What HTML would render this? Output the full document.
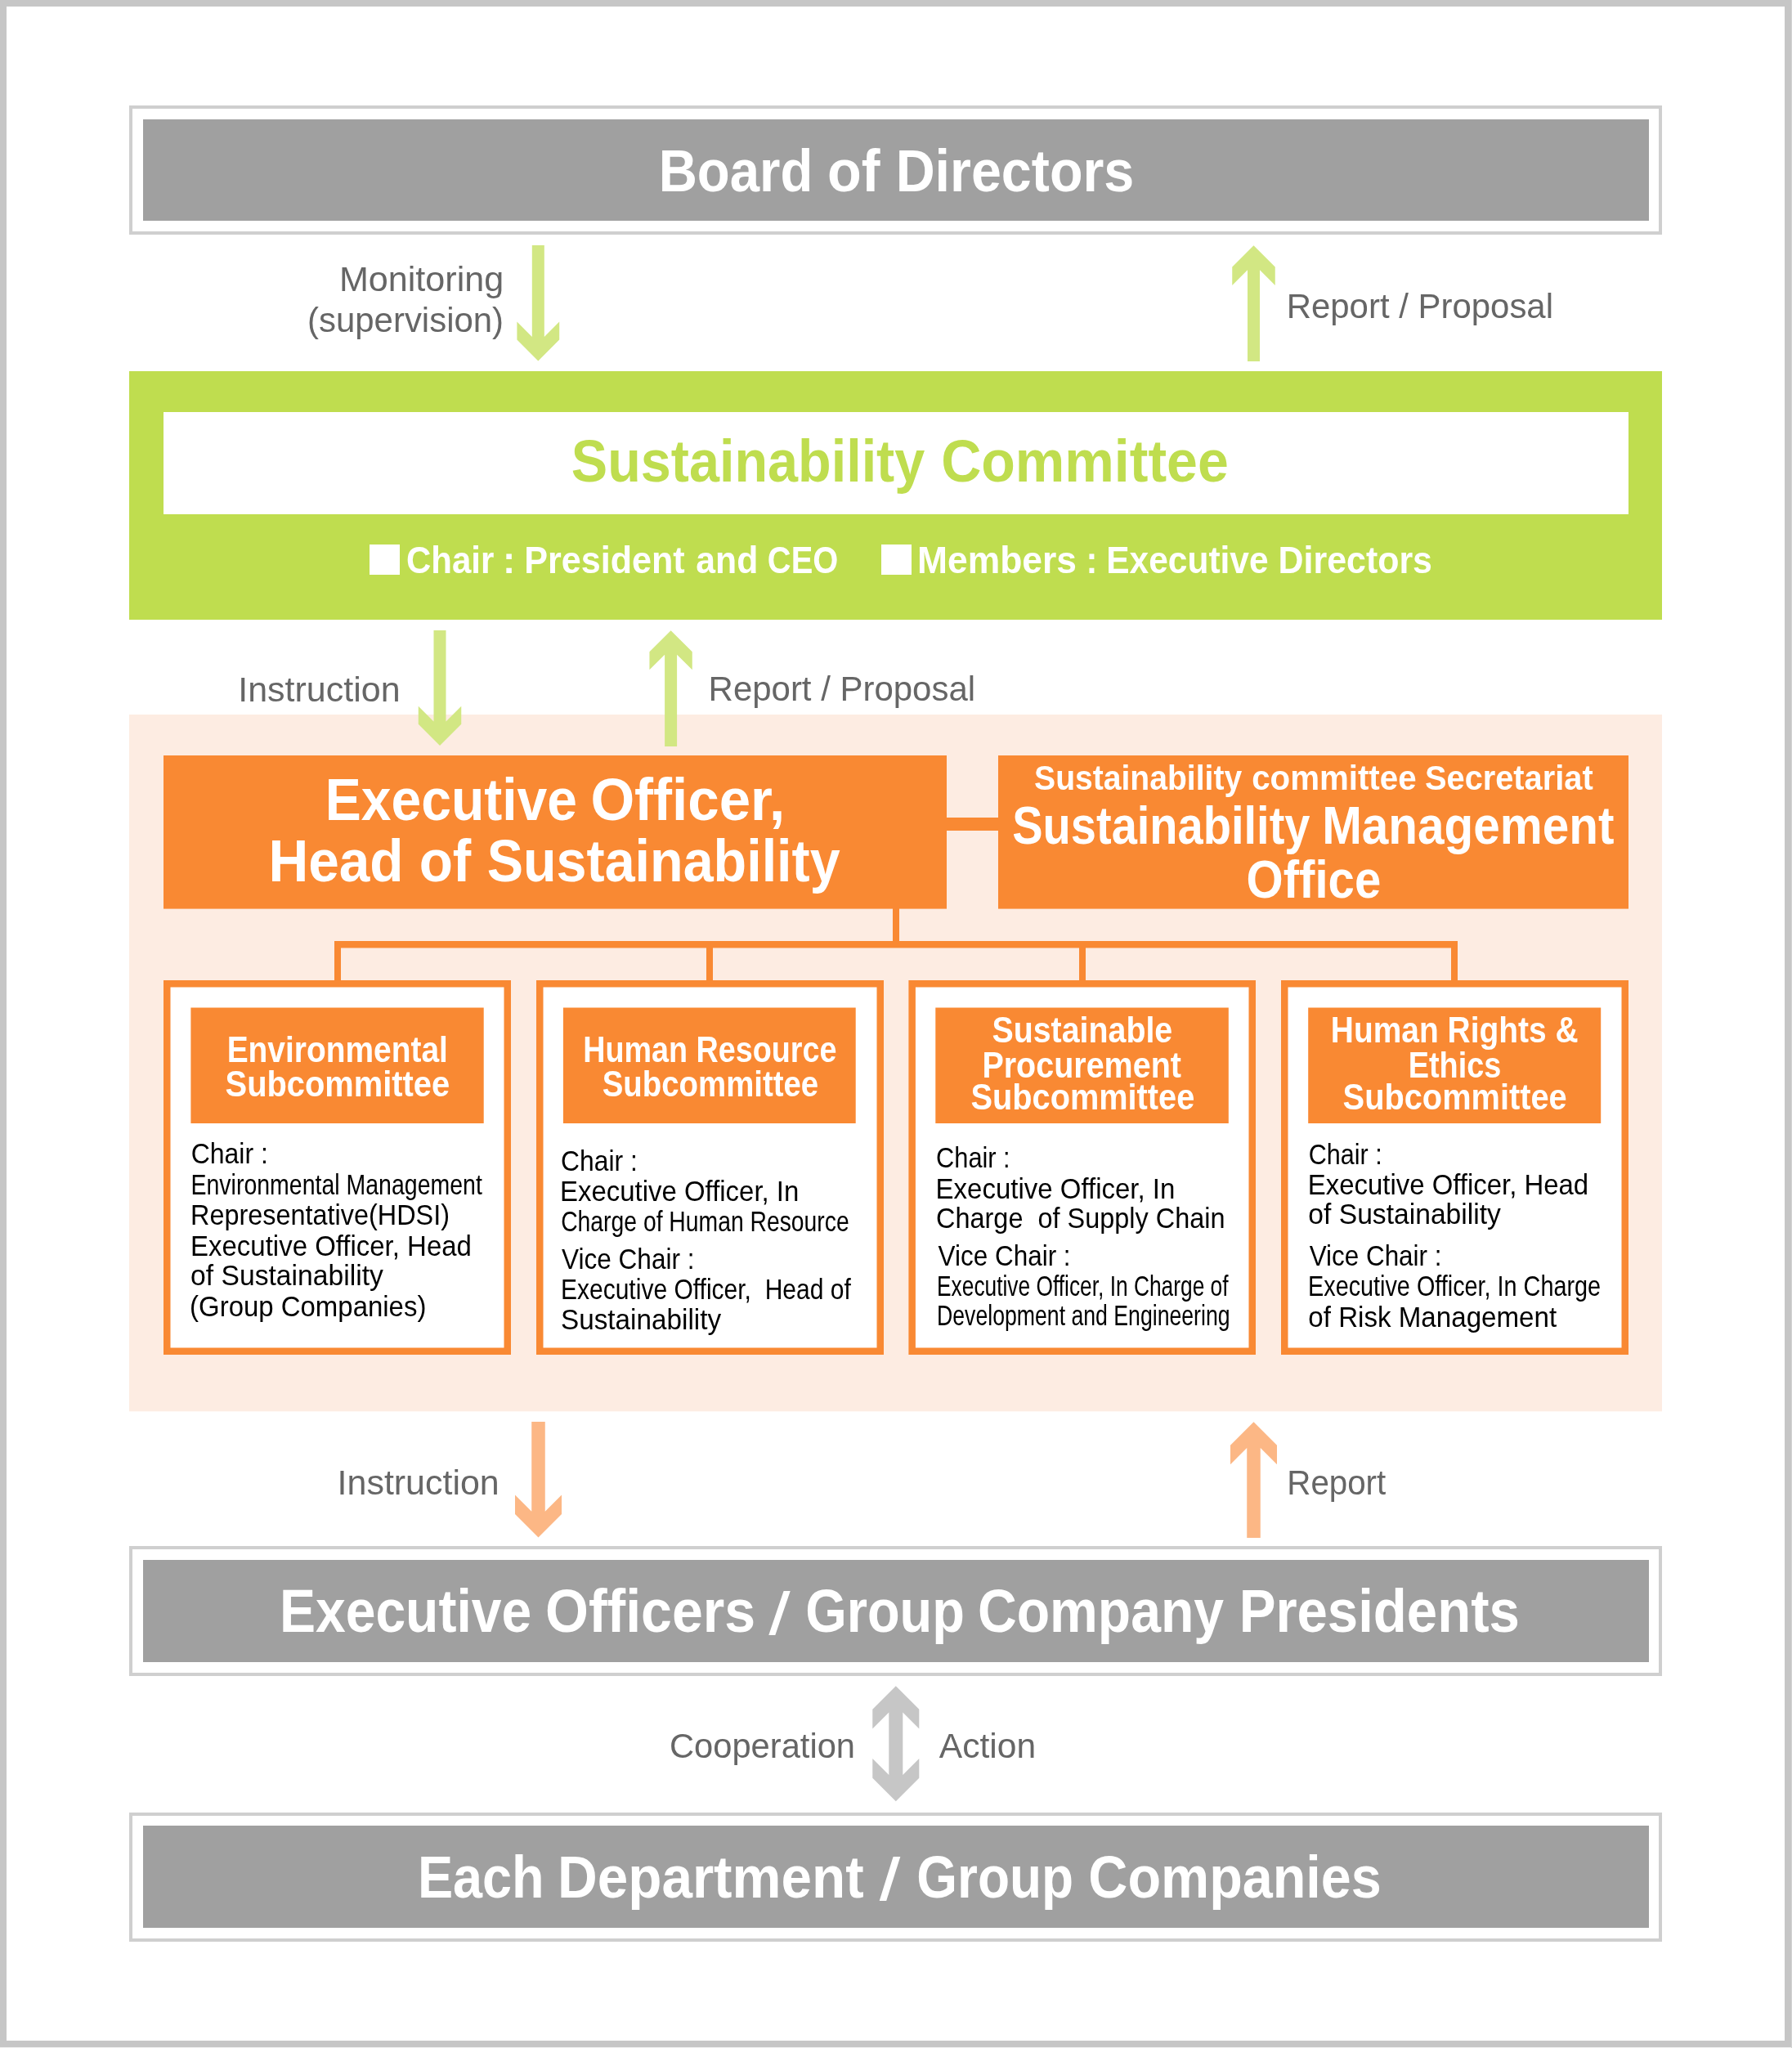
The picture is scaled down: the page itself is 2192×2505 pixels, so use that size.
<!DOCTYPE html>
<html><head><meta charset="utf-8"><title>Sustainability Promotion Structure</title>
<style>html,body{margin:0;padding:0;background:#fff;width:2192px;height:2505px;overflow:hidden;}svg{display:block;}text{font-family:"Liberation Sans",sans-serif;}</style>
</head><body>
<svg width="2192" height="2505" viewBox="0 0 2192 2505" style="will-change:transform">
<rect x="0" y="0" width="2192" height="2505" fill="#ffffff"/>
<rect x="0" y="0" width="2191" height="8" fill="#c6c6c6"/>
<rect x="0" y="0" width="8" height="2504" fill="#c6c6c6"/>
<rect x="2183" y="0" width="8" height="2504" fill="#c6c6c6"/>
<rect x="0" y="2496" width="2191" height="8" fill="#c6c6c6"/>
<rect x="2191" y="0" width="1" height="2505" fill="#d3d3d3"/>
<rect x="0" y="2504" width="2191" height="1" fill="#f1f1f1"/>
<rect x="158" y="129" width="1875" height="158" fill="#cfcfcf"/>
<rect x="162" y="133" width="1867" height="150" fill="#ffffff"/>
<rect x="175" y="146" width="1842" height="124" fill="#a0a0a0"/>
<rect x="158" y="1891" width="1875" height="159" fill="#cfcfcf"/>
<rect x="162" y="1895" width="1867" height="151" fill="#ffffff"/>
<rect x="175" y="1908" width="1842" height="125" fill="#a0a0a0"/>
<rect x="158" y="2217" width="1875" height="158" fill="#cfcfcf"/>
<rect x="162" y="2221" width="1867" height="150" fill="#ffffff"/>
<rect x="175" y="2233" width="1842" height="125" fill="#a0a0a0"/>
<rect x="158" y="454" width="1875" height="304" fill="#bfdd4f"/>
<rect x="200" y="504" width="1792" height="125" fill="#ffffff"/>
<rect x="452" y="666" width="37" height="37" fill="#ffffff"/>
<rect x="1078" y="666" width="37" height="37" fill="#ffffff"/>
<rect x="158" y="874" width="1875" height="852.3" fill="#fdece2"/>
<polygon points="650.80,300.00 665.80,300.00 665.80,411.90 684.20,393.50 684.20,415.50 658.30,441.40 632.40,415.50 632.40,393.50 650.80,411.90" fill="#d2e783"/>
<polygon points="1526.00,442.00 1541.00,442.00 1541.00,330.30 1559.75,349.05 1559.75,326.55 1533.50,300.30 1507.25,326.55 1507.25,349.05 1526.00,330.30" fill="#d2e783"/>
<polygon points="530.50,771.00 545.50,771.00 545.50,882.50 564.25,863.75 564.25,885.75 538.00,912.00 511.75,885.75 511.75,863.75 530.50,882.50" fill="#d2e783"/>
<polygon points="813.10,913.00 828.10,913.00 828.10,800.70 846.75,819.35 846.75,797.35 820.60,771.20 794.45,797.35 794.45,819.35 813.10,800.70" fill="#d2e783"/>
<rect x="200" y="924" width="958" height="187.6" fill="#f98933"/>
<rect x="1221" y="924" width="771" height="187.6" fill="#f98933"/>
<rect x="1158" y="1000" width="63" height="16" fill="#f98933"/>
<rect x="1092" y="1111" width="8" height="44" fill="#f98933"/>
<rect x="409" y="1151" width="1374" height="8.5" fill="#f98933"/>
<rect x="409" y="1151" width="8" height="50" fill="#f98933"/>
<rect x="864" y="1151" width="8" height="50" fill="#f98933"/>
<rect x="1320" y="1151" width="8" height="50" fill="#f98933"/>
<rect x="1775" y="1151" width="8" height="50" fill="#f98933"/>
<rect x="200" y="1199" width="425" height="458" fill="#f98933"/>
<rect x="208.5" y="1207.5" width="408" height="441" fill="#ffffff"/>
<rect x="656" y="1199" width="425" height="458" fill="#f98933"/>
<rect x="664.5" y="1207.5" width="408" height="441" fill="#ffffff"/>
<rect x="1111.4" y="1199" width="424.5999999999999" height="458" fill="#f98933"/>
<rect x="1119.9" y="1207.5" width="407.5999999999999" height="441" fill="#ffffff"/>
<rect x="1567" y="1199" width="425" height="458" fill="#f98933"/>
<rect x="1575.5" y="1207.5" width="408" height="441" fill="#ffffff"/>
<rect x="233.4" y="1232.5" width="358.30000000000007" height="141.5" fill="#f98933"/>
<rect x="688.9" y="1232.5" width="357.80000000000007" height="141.5" fill="#f98933"/>
<rect x="1144.3" y="1232.5" width="358.5" height="141.5" fill="#f98933"/>
<rect x="1600.2" y="1232.5" width="358.0" height="141.5" fill="#f98933"/>
<polygon points="650.25,1739.00 666.75,1739.00 666.75,1848.75 687.00,1828.50 687.00,1852.00 658.50,1880.50 630.00,1852.00 630.00,1828.50 650.25,1848.75" fill="#fcb785"/>
<polygon points="1525.25,1881.00 1541.75,1881.00 1541.75,1770.95 1562.00,1791.20 1562.00,1767.70 1533.50,1739.20 1505.00,1767.70 1505.00,1791.20 1525.25,1770.95" fill="#fcb785"/>
<polygon points="1095.80,2062.30 1124.30,2090.80 1124.30,2114.60 1104.30,2094.60 1104.30,2170.90 1124.30,2150.90 1124.30,2174.70 1095.80,2203.20 1067.30,2174.70 1067.30,2150.90 1087.30,2170.90 1087.30,2094.60 1067.30,2114.60 1067.30,2090.80" fill="#c6c6c6"/>
<polygon points="958.60,1945.90 966.70,1945.90 948.30,2000.00 940.30,2000.00" fill="#ffffff"/>
<polygon points="1092.60,2270.90 1101.30,2270.90 1084.20,2325.00 1075.70,2325.00" fill="#ffffff"/>
<text x="805.71" y="234.00" font-size="72.68" font-weight="bold" fill="#ffffff" textLength="188.64" lengthAdjust="spacingAndGlyphs" xml:space="preserve">Board</text>
<text x="1012.12" y="234.00" font-size="72.68" font-weight="bold" fill="#ffffff" textLength="64.53" lengthAdjust="spacingAndGlyphs" xml:space="preserve">of</text>
<text x="1095.64" y="234.00" font-size="72.68" font-weight="bold" fill="#ffffff" textLength="291.67" lengthAdjust="spacingAndGlyphs" xml:space="preserve">Directors</text>
<text x="698.87" y="588.50" font-size="72.68" font-weight="bold" fill="#bfdd4f" textLength="432.40" lengthAdjust="spacingAndGlyphs" xml:space="preserve">Sustainability</text>
<text x="1151.13" y="588.50" font-size="72.68" font-weight="bold" fill="#bfdd4f" textLength="351.64" lengthAdjust="spacingAndGlyphs" xml:space="preserve">Committee</text>
<text x="496.91" y="701.00" font-size="46.95" font-weight="bold" fill="#ffffff" textLength="107.33" lengthAdjust="spacingAndGlyphs" xml:space="preserve">Chair</text>
<text x="615.00" y="701.00" font-size="46.95" font-weight="bold" fill="#ffffff" textLength="15.24" lengthAdjust="spacingAndGlyphs" xml:space="preserve">:</text>
<text x="641.14" y="701.00" font-size="46.95" font-weight="bold" fill="#ffffff" textLength="196.62" lengthAdjust="spacingAndGlyphs" xml:space="preserve">President</text>
<text x="851.29" y="701.00" font-size="46.95" font-weight="bold" fill="#ffffff" textLength="75.94" lengthAdjust="spacingAndGlyphs" xml:space="preserve">and</text>
<text x="938.85" y="701.00" font-size="46.95" font-weight="bold" fill="#ffffff" textLength="86.43" lengthAdjust="spacingAndGlyphs" xml:space="preserve">CEO</text>
<text x="1121.96" y="701.00" font-size="46.95" font-weight="bold" fill="#ffffff" textLength="194.98" lengthAdjust="spacingAndGlyphs" xml:space="preserve">Members</text>
<text x="1328.45" y="701.00" font-size="46.95" font-weight="bold" fill="#ffffff" textLength="13.87" lengthAdjust="spacingAndGlyphs" xml:space="preserve">:</text>
<text x="1353.29" y="701.00" font-size="46.95" font-weight="bold" fill="#ffffff" textLength="198.31" lengthAdjust="spacingAndGlyphs" xml:space="preserve">Executive</text>
<text x="1563.56" y="701.00" font-size="46.95" font-weight="bold" fill="#ffffff" textLength="188.45" lengthAdjust="spacingAndGlyphs" xml:space="preserve">Directors</text>
<text x="414.90" y="355.70" font-size="43.17" font-weight="normal" fill="#666666" textLength="201.30" lengthAdjust="spacingAndGlyphs" xml:space="preserve">Monitoring</text>
<text x="376.06" y="405.80" font-size="43.17" font-weight="normal" fill="#666666" textLength="240.05" lengthAdjust="spacingAndGlyphs" xml:space="preserve">(supervision)</text>
<text x="1573.68" y="388.80" font-size="43.17" font-weight="normal" fill="#666666" textLength="326.33" lengthAdjust="spacingAndGlyphs" xml:space="preserve">Report / Proposal</text>
<text x="291.21" y="857.60" font-size="43.17" font-weight="normal" fill="#666666" textLength="198.38" lengthAdjust="spacingAndGlyphs" xml:space="preserve">Instruction</text>
<text x="866.58" y="857.30" font-size="43.17" font-weight="normal" fill="#666666" textLength="326.53" lengthAdjust="spacingAndGlyphs" xml:space="preserve">Report / Proposal</text>
<text x="397.77" y="1003.00" font-size="72.68" font-weight="bold" fill="#ffffff" textLength="308.18" lengthAdjust="spacingAndGlyphs" xml:space="preserve">Executive</text>
<text x="722.40" y="1003.00" font-size="72.68" font-weight="bold" fill="#ffffff" textLength="237.88" lengthAdjust="spacingAndGlyphs" xml:space="preserve">Officer,</text>
<text x="328.38" y="1078.00" font-size="72.68" font-weight="bold" fill="#ffffff" textLength="165.20" lengthAdjust="spacingAndGlyphs" xml:space="preserve">Head</text>
<text x="512.65" y="1078.00" font-size="72.68" font-weight="bold" fill="#ffffff" textLength="63.61" lengthAdjust="spacingAndGlyphs" xml:space="preserve">of</text>
<text x="595.67" y="1078.00" font-size="72.68" font-weight="bold" fill="#ffffff" textLength="432.00" lengthAdjust="spacingAndGlyphs" xml:space="preserve">Sustainability</text>
<text x="1265.09" y="965.50" font-size="42.88" font-weight="bold" fill="#ffffff" textLength="254.07" lengthAdjust="spacingAndGlyphs" xml:space="preserve">Sustainability</text>
<text x="1531.16" y="965.50" font-size="42.88" font-weight="bold" fill="#ffffff" textLength="201.43" lengthAdjust="spacingAndGlyphs" xml:space="preserve">committee</text>
<text x="1742.97" y="965.50" font-size="42.88" font-weight="bold" fill="#ffffff" textLength="205.69" lengthAdjust="spacingAndGlyphs" xml:space="preserve">Secretariat</text>
<text x="1238.22" y="1031.60" font-size="63.95" font-weight="bold" fill="#ffffff" textLength="364.29" lengthAdjust="spacingAndGlyphs" xml:space="preserve">Sustainability</text>
<text x="1617.14" y="1031.60" font-size="63.95" font-weight="bold" fill="#ffffff" textLength="357.22" lengthAdjust="spacingAndGlyphs" xml:space="preserve">Management</text>
<text x="1524.58" y="1097.50" font-size="63.95" font-weight="bold" fill="#ffffff" textLength="164.63" lengthAdjust="spacingAndGlyphs" xml:space="preserve">Office</text>
<text x="277.63" y="1298.90" font-size="44.04" font-weight="bold" fill="#ffffff" textLength="270.24" lengthAdjust="spacingAndGlyphs" xml:space="preserve">Environmental</text>
<text x="275.60" y="1340.50" font-size="44.04" font-weight="bold" fill="#ffffff" textLength="274.55" lengthAdjust="spacingAndGlyphs" xml:space="preserve">Subcommittee</text>
<text x="713.29" y="1298.60" font-size="44.04" font-weight="bold" fill="#ffffff" textLength="310.19" lengthAdjust="spacingAndGlyphs" xml:space="preserve">Human Resource</text>
<text x="736.73" y="1340.50" font-size="44.04" font-weight="bold" fill="#ffffff" textLength="264.47" lengthAdjust="spacingAndGlyphs" xml:space="preserve">Subcommittee</text>
<text x="1213.51" y="1274.70" font-size="44.04" font-weight="bold" fill="#ffffff" textLength="220.72" lengthAdjust="spacingAndGlyphs" xml:space="preserve">Sustainable</text>
<text x="1201.41" y="1317.80" font-size="44.04" font-weight="bold" fill="#ffffff" textLength="243.49" lengthAdjust="spacingAndGlyphs" xml:space="preserve">Procurement</text>
<text x="1187.60" y="1357.30" font-size="44.04" font-weight="bold" fill="#ffffff" textLength="273.64" lengthAdjust="spacingAndGlyphs" xml:space="preserve">Subcommittee</text>
<text x="1627.83" y="1274.70" font-size="44.04" font-weight="bold" fill="#ffffff" textLength="302.77" lengthAdjust="spacingAndGlyphs" xml:space="preserve">Human Rights &amp;</text>
<text x="1722.78" y="1317.80" font-size="44.04" font-weight="bold" fill="#ffffff" textLength="113.50" lengthAdjust="spacingAndGlyphs" xml:space="preserve">Ethics</text>
<text x="1642.60" y="1357.30" font-size="44.04" font-weight="bold" fill="#ffffff" textLength="274.15" lengthAdjust="spacingAndGlyphs" xml:space="preserve">Subcommittee</text>
<text x="233.77" y="1422.80" font-size="34.3" font-weight="normal" fill="#000000" textLength="94.09" lengthAdjust="spacingAndGlyphs" xml:space="preserve">Chair :</text>
<text x="233.54" y="1460.80" font-size="34.3" font-weight="normal" fill="#000000" textLength="356.27" lengthAdjust="spacingAndGlyphs" xml:space="preserve">Environmental Management</text>
<text x="233.11" y="1497.80" font-size="34.3" font-weight="normal" fill="#000000" textLength="316.83" lengthAdjust="spacingAndGlyphs" xml:space="preserve">Representative(HDSI)</text>
<text x="233.08" y="1535.60" font-size="34.3" font-weight="normal" fill="#000000" textLength="343.82" lengthAdjust="spacingAndGlyphs" xml:space="preserve">Executive Officer, Head</text>
<text x="233.02" y="1572.20" font-size="34.3" font-weight="normal" fill="#000000" textLength="235.85" lengthAdjust="spacingAndGlyphs" xml:space="preserve">of Sustainability</text>
<text x="232.08" y="1609.50" font-size="34.3" font-weight="normal" fill="#000000" textLength="289.29" lengthAdjust="spacingAndGlyphs" xml:space="preserve">(Group Companies)</text>
<text x="686.07" y="1431.50" font-size="34.3" font-weight="normal" fill="#000000" textLength="93.67" lengthAdjust="spacingAndGlyphs" xml:space="preserve">Chair :</text>
<text x="685.08" y="1469.20" font-size="34.3" font-weight="normal" fill="#000000" textLength="292.21" lengthAdjust="spacingAndGlyphs" xml:space="preserve">Executive Officer, In</text>
<text x="686.17" y="1505.80" font-size="34.3" font-weight="normal" fill="#000000" textLength="352.51" lengthAdjust="spacingAndGlyphs" xml:space="preserve">Charge of Human Resource</text>
<text x="687.00" y="1552.00" font-size="34.3" font-weight="normal" fill="#000000" textLength="162.53" lengthAdjust="spacingAndGlyphs" xml:space="preserve">Vice Chair :</text>
<text x="685.95" y="1589.30" font-size="34.3" font-weight="normal" fill="#000000" textLength="354.84" lengthAdjust="spacingAndGlyphs" xml:space="preserve">Executive Officer,  Head of</text>
<text x="686.03" y="1625.90" font-size="34.3" font-weight="normal" fill="#000000" textLength="196.04" lengthAdjust="spacingAndGlyphs" xml:space="preserve">Sustainability</text>
<text x="1145.10" y="1428.00" font-size="34.3" font-weight="normal" fill="#000000" textLength="90.56" lengthAdjust="spacingAndGlyphs" xml:space="preserve">Chair :</text>
<text x="1144.58" y="1465.80" font-size="34.3" font-weight="normal" fill="#000000" textLength="292.82" lengthAdjust="spacingAndGlyphs" xml:space="preserve">Executive Officer, In</text>
<text x="1145.05" y="1502.40" font-size="34.3" font-weight="normal" fill="#000000" textLength="353.41" lengthAdjust="spacingAndGlyphs" xml:space="preserve">Charge  of Supply Chain</text>
<text x="1147.60" y="1548.20" font-size="34.3" font-weight="normal" fill="#000000" textLength="162.02" lengthAdjust="spacingAndGlyphs" xml:space="preserve">Vice Chair :</text>
<text x="1146.07" y="1584.80" font-size="34.3" font-weight="normal" fill="#000000" textLength="356.47" lengthAdjust="spacingAndGlyphs" xml:space="preserve">Executive Officer, In Charge of</text>
<text x="1146.05" y="1621.40" font-size="34.3" font-weight="normal" fill="#000000" textLength="358.47" lengthAdjust="spacingAndGlyphs" xml:space="preserve">Development and Engineering</text>
<text x="1600.81" y="1423.50" font-size="34.3" font-weight="normal" fill="#000000" textLength="89.84" lengthAdjust="spacingAndGlyphs" xml:space="preserve">Chair :</text>
<text x="1599.78" y="1460.50" font-size="34.3" font-weight="normal" fill="#000000" textLength="343.41" lengthAdjust="spacingAndGlyphs" xml:space="preserve">Executive Officer, Head</text>
<text x="1600.32" y="1497.10" font-size="34.3" font-weight="normal" fill="#000000" textLength="235.55" lengthAdjust="spacingAndGlyphs" xml:space="preserve">of Sustainability</text>
<text x="1601.70" y="1548.20" font-size="34.3" font-weight="normal" fill="#000000" textLength="161.82" lengthAdjust="spacingAndGlyphs" xml:space="preserve">Vice Chair :</text>
<text x="1600.02" y="1584.80" font-size="34.3" font-weight="normal" fill="#000000" textLength="358.08" lengthAdjust="spacingAndGlyphs" xml:space="preserve">Executive Officer, In Charge</text>
<text x="1600.33" y="1622.50" font-size="34.3" font-weight="normal" fill="#000000" textLength="303.81" lengthAdjust="spacingAndGlyphs" xml:space="preserve">of Risk Management</text>
<text x="412.62" y="1827.80" font-size="43.17" font-weight="normal" fill="#666666" textLength="198.08" lengthAdjust="spacingAndGlyphs" xml:space="preserve">Instruction</text>
<text x="1574.30" y="1827.80" font-size="43.17" font-weight="normal" fill="#666666" textLength="120.89" lengthAdjust="spacingAndGlyphs" xml:space="preserve">Report</text>
<text x="342.00" y="1996.30" font-size="73.4" font-weight="bold" fill="#ffffff" textLength="308.13" lengthAdjust="spacingAndGlyphs" xml:space="preserve">Executive</text>
<text x="667.02" y="1996.30" font-size="73.4" font-weight="bold" fill="#ffffff" textLength="256.99" lengthAdjust="spacingAndGlyphs" xml:space="preserve">Officers</text>
<text x="985.15" y="1996.30" font-size="73.4" font-weight="bold" fill="#ffffff" textLength="194.76" lengthAdjust="spacingAndGlyphs" xml:space="preserve">Group</text>
<text x="1196.00" y="1996.30" font-size="73.4" font-weight="bold" fill="#ffffff" textLength="301.14" lengthAdjust="spacingAndGlyphs" xml:space="preserve">Company</text>
<text x="1515.64" y="1996.30" font-size="73.4" font-weight="bold" fill="#ffffff" textLength="343.23" lengthAdjust="spacingAndGlyphs" xml:space="preserve">Presidents</text>
<text x="818.97" y="2149.70" font-size="43.17" font-weight="normal" fill="#666666" textLength="227.06" lengthAdjust="spacingAndGlyphs" xml:space="preserve">Cooperation</text>
<text x="1148.80" y="2149.70" font-size="43.17" font-weight="normal" fill="#666666" textLength="118.27" lengthAdjust="spacingAndGlyphs" xml:space="preserve">Action</text>
<text x="510.94" y="2321.00" font-size="72.68" font-weight="bold" fill="#ffffff" textLength="154.67" lengthAdjust="spacingAndGlyphs" xml:space="preserve">Each</text>
<text x="682.09" y="2321.00" font-size="72.68" font-weight="bold" fill="#ffffff" textLength="374.50" lengthAdjust="spacingAndGlyphs" xml:space="preserve">Department</text>
<text x="1121.34" y="2321.00" font-size="72.68" font-weight="bold" fill="#ffffff" textLength="191.86" lengthAdjust="spacingAndGlyphs" xml:space="preserve">Group</text>
<text x="1331.37" y="2321.00" font-size="72.68" font-weight="bold" fill="#ffffff" textLength="358.44" lengthAdjust="spacingAndGlyphs" xml:space="preserve">Companies</text>
</svg>
</body></html>
